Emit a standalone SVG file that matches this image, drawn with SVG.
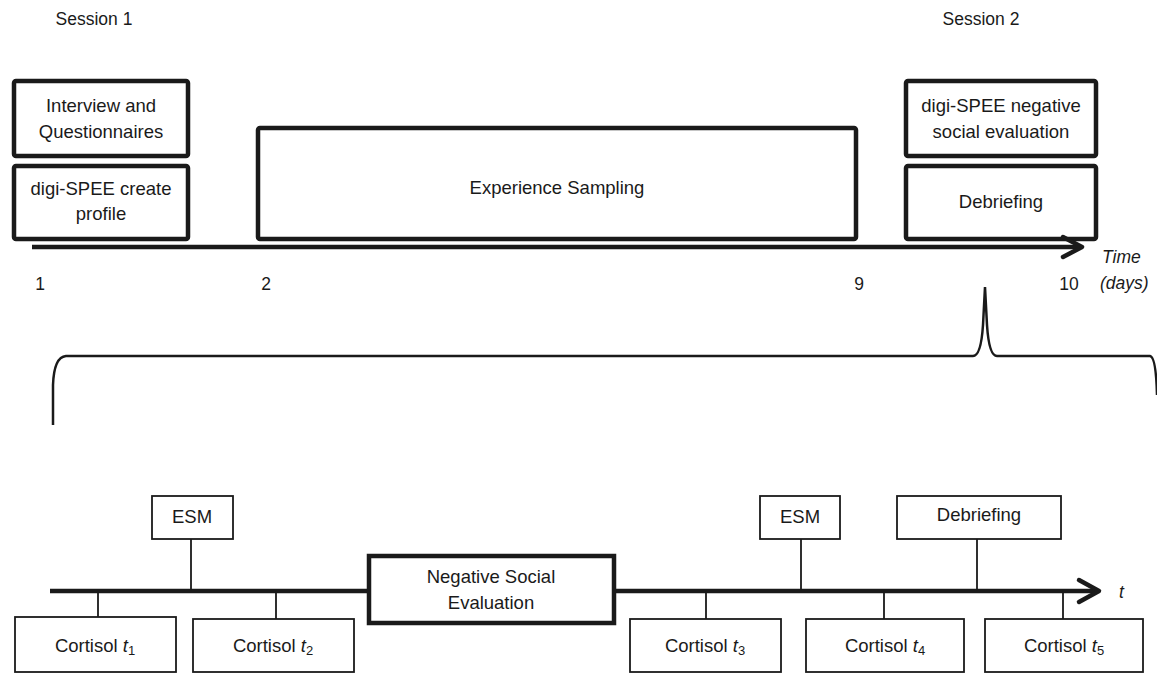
<svg xmlns="http://www.w3.org/2000/svg" width="1157" height="674" viewBox="0 0 1157 674">
<style>
text{font-family:"Liberation Sans",Arial,sans-serif;font-size:18.5px;fill:#1a1a1a;text-anchor:middle}
.lbl{text-anchor:start}
.it{font-style:italic}
.sm{font-size:17.5px}
.thick{fill:#fff;stroke:#1a1a1a;stroke-width:4.5}
.thin{fill:#fff;stroke:#1a1a1a;stroke-width:1.8}
.tick{stroke:#1a1a1a;stroke-width:1.8;fill:none}
.axis{stroke:#1a1a1a;stroke-width:4.5;fill:none}
.brace{stroke:#1a1a1a;stroke-width:2.5;fill:none}
</style>
<rect width="1157" height="674" fill="#fff"/>
<text class="sm" x="94" y="25">Session 1</text>
<text class="sm" x="981" y="25">Session 2</text>
<g id="interview"><rect class="thick" x="14" y="81" width="174" height="75" rx="2"/><text x="101" y="112">Interview and</text><text x="101" y="138">Questionnaires</text></g>
<g id="create"><rect class="thick" x="14" y="166" width="174" height="73" rx="2"/><text x="101" y="195">digi-SPEE create</text><text x="101" y="220">profile</text></g>
<g id="esamp"><rect class="thick" x="258" y="128" width="598" height="111" rx="2"/><text x="557" y="194">Experience Sampling</text></g>
<g id="neg"><rect class="thick" x="906" y="81" width="190" height="75" rx="2"/><text x="1001" y="112">digi-SPEE negative</text><text x="1001" y="138">social evaluation</text></g>
<g id="debrief"><rect class="thick" x="906" y="166" width="190" height="73" rx="2"/><text x="1001" y="208">Debriefing</text></g>
<g id="connectors">
<path class="axis" d="M32,247 L1081,247"/>
<path class="axis" d="M1063,237 L1082,247 L1063,257" stroke-linecap="round" stroke-linejoin="round"/>
<path class="brace" d="M53,425 L53,385 Q54,357 66,356 L973,356 Q981,356 983,325 L985,287 L987,325 Q989,356 997,356 L1150,356 Q1156,357 1157,395"/>
<path class="axis" d="M50,591 L1098,591"/>
<path class="axis" d="M1079,580 L1099,591 L1079,602" stroke-linecap="round" stroke-linejoin="round"/>
<path class="tick" d="M191,539 V591 M98,591 V617 M276,591 V619 M801,539 V591 M977,539 V591 M706,591 V619 M884,591 V619 M1063,591 V619"/>
</g>
<text class="lbl it sm" x="1102" y="263">Time</text>
<text class="lbl it sm" x="1100" y="289">(days)</text>
<text class="sm" x="40" y="290">1</text>
<text class="sm" x="266" y="290">2</text>
<text class="sm" x="859" y="290">9</text>
<text class="sm" x="1069" y="290">10</text>
<g id="esm1"><rect class="thin" x="152" y="496" width="81" height="43"/><text x="192" y="523">ESM</text></g>
<g id="esm2"><rect class="thin" x="760" y="496" width="80" height="43"/><text x="800" y="523">ESM</text></g>
<g id="deb2"><rect class="thin" x="897" y="496" width="164" height="43"/><text x="979" y="521">Debriefing</text></g>
<g id="nse"><rect class="thick" x="369" y="556" width="245" height="67"/><text x="491" y="583">Negative Social</text><text x="491" y="609">Evaluation</text></g>
<g id="c1"><rect class="thin" x="15" y="617" width="161" height="55"/><text x="95" y="652">Cortisol <tspan class="it">t</tspan><tspan font-size="13" dy="3">1</tspan></text></g>
<g id="c2"><rect class="thin" x="193" y="619" width="161" height="53"/><text x="273" y="652">Cortisol <tspan class="it">t</tspan><tspan font-size="13" dy="3">2</tspan></text></g>
<g id="c3"><rect class="thin" x="630" y="619" width="151" height="53"/><text x="705" y="652">Cortisol <tspan class="it">t</tspan><tspan font-size="13" dy="3">3</tspan></text></g>
<g id="c4"><rect class="thin" x="806" y="619" width="158" height="53"/><text x="885" y="652">Cortisol <tspan class="it">t</tspan><tspan font-size="13" dy="3">4</tspan></text></g>
<g id="c5"><rect class="thin" x="985" y="619" width="158" height="53"/><text x="1064" y="652">Cortisol <tspan class="it">t</tspan><tspan font-size="13" dy="3">5</tspan></text></g>
<text class="lbl it sm" x="1119" y="598">t</text>
</svg>
